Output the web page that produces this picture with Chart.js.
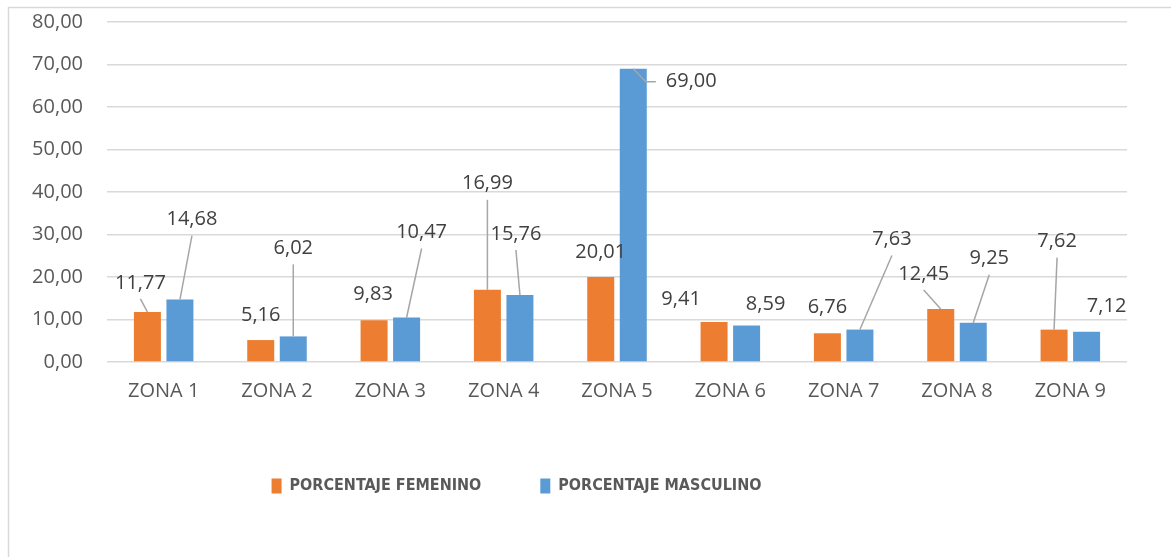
<!DOCTYPE html>
<html>
<head>
<meta charset="utf-8">
<script src="https://cdn.jsdelivr.net/npm/chart.js@4"></script>
<style>
  html, body { margin: 0; padding: 0; background: #fff; }
  #wrap { position: relative; width: 1171px; height: 557px; }
</style>
</head>
<body>
<div id="wrap"><canvas id="myChart" width="1171" height="557"></canvas></div>
<script>
const zonas = ["ZONA 1", "ZONA 2", "ZONA 3", "ZONA 4", "ZONA 5", "ZONA 6", "ZONA 7", "ZONA 8", "ZONA 9"];
const femenino = [11.77, 5.16, 9.83, 16.99, 20.01, 9.41, 6.76, 12.45, 7.62];
const masculino = [14.68, 6.02, 10.47, 15.76, 69.00, 8.59, 7.63, 9.25, 7.12];
const yTicks = [0, 10, 20, 30, 40, 50, 60, 70, 80];

// label placement relative to bar top: [dx, dy, leader] (0 none, 1 straight, 2 elbow)
const femLabelPos = [[-7,-29,1],[0,-25,0],[-1,-26,0],[0,-106,1],[0,-25,0],[-33,-23,0],[0,-26,0],[-17,-35,1],[3,-88,1]];
const mascLabelPos = [[12,-80,1],[0,-88,1],[15,-85,1],[-4,-61,1],[58,13,2],[19,-21,0],[32,-90,1],[16,-64,1],[20,-25,0]];

const fmt = v => v.toFixed(2).replace('.', ',');
const FONT = "'Open Sans', 'DejaVu Sans', sans-serif";

const frame = {
  id: 'frame',
  beforeDraw(chart) {
    const ctx = chart.ctx;
    ctx.save();
    ctx.strokeStyle = '#d9d9d9';
    ctx.lineWidth = 1.5;
    ctx.beginPath();
    ctx.moveTo(8.5, 557);
    ctx.lineTo(8.5, 7.5);
    ctx.lineTo(1171, 7.5);
    ctx.stroke();
    ctx.restore();
  }
};

const labels = {
  id: 'labels',
  afterDatasetsDraw(chart) {
    const ctx = chart.ctx;
    const places = [femLabelPos, mascLabelPos];
    ctx.save();
    ctx.font = "20px " + FONT;
    ctx.textAlign = 'center';
    ctx.textBaseline = 'middle';
    chart.data.datasets.forEach((ds, di) => {
      const meta = chart.getDatasetMeta(di);
      meta.data.forEach((bar, i) => {
        const p = places[di][i];
        const tx = bar.x + p[0], ty = bar.y + p[1];
        ctx.strokeStyle = '#a6a6a6';
        ctx.lineWidth = 1.5;
        if (p[2] === 1) {
          ctx.beginPath();
          ctx.moveTo(tx, ty + 16);
          ctx.lineTo(bar.x, bar.y);
          ctx.stroke();
        } else if (p[2] === 2) {
          const w = ctx.measureText(fmt(ds.data[i])).width;
          const sx = tx - w / 2 - 10;
          ctx.beginPath();
          ctx.moveTo(sx, ty);
          ctx.lineTo(sx - 10, ty);
          ctx.lineTo(bar.x, bar.y);
          ctx.stroke();
        }
        ctx.fillStyle = '#404040';
        ctx.fillText(fmt(ds.data[i]), tx, ty);
      });
    });
    ctx.restore();
  }
};

const shiftLegend = {
  id: 'shiftLegend',
  afterLayout(chart) {
    const dx = -47;
    chart.legend.left += dx;
    chart.legend.right += dx;
  }
};

new Chart(document.getElementById('myChart'), {
  type: 'bar',
  data: {
    labels: zonas,
    datasets: [
      { label: 'PORCENTAJE FEMENINO', data: femenino, backgroundColor: '#ED7D31', borderWidth: 0,
        categoryPercentage: 0.574, barPercentage: 0.83 },
      { label: 'PORCENTAJE MASCULINO', data: masculino, backgroundColor: '#5B9BD5', borderWidth: 0,
        categoryPercentage: 0.574, barPercentage: 0.83 }
    ]
  },
  options: {
    responsive: false,
    animation: false,
    layout: { padding: { left: 0, right: 44, top: 22, bottom: 53 } },
    plugins: {
      tooltip: { enabled: false },
      legend: {
        position: 'bottom',
        labels: {
          boxWidth: 10, boxHeight: 15, padding: 59,
          color: '#595959',
          font: { family: "'Liberation Sans Narrow', 'DejaVu Sans Condensed', 'Open Sans', sans-serif", size: 16, weight: 'bold' }
        }
      }
    },
    scales: {
      x: {
        grid: { display: false, drawTicks: false },
        border: { display: false },
        ticks: { color: '#595959', padding: 17, font: { family: FONT, size: 20 } },
        afterFit(scale) { scale.height = 57; }
      },
      y: {
        min: 0, max: 80,
        afterBuildTicks(scale) { scale.ticks = yTicks.map(v => ({ value: v })); },
        grid: { color: '#d9d9d9', lineWidth: 1.5, drawTicks: false },
        border: { display: false },
        ticks: { color: '#595959', padding: 24, font: { family: FONT, size: 20 }, callback: v => fmt(v) },
        afterFit(scale) { scale.width = 107; scale.paddingTop = 0; scale.paddingBottom = 0; }
      }
    }
  },
  plugins: [frame, labels, shiftLegend]
});
</script>
</body>
</html>
